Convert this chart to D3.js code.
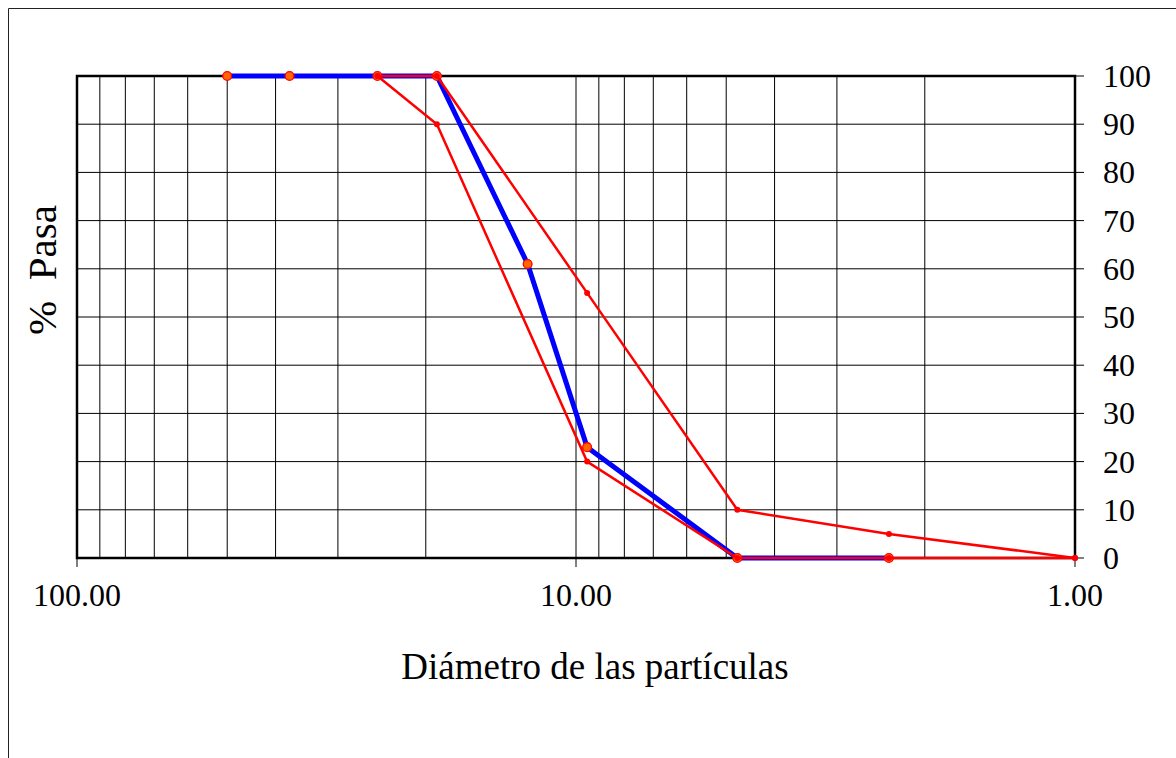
<!DOCTYPE html>
<html>
<head>
<meta charset="utf-8">
<script src="https://cdn.jsdelivr.net/npm/d3@7"></script>
<style>
  body { margin: 0; background: #fff; }
  svg text { font-family: "Liberation Serif", "Times New Roman", serif; fill: #000; }
</style>
</head>
<body>
<div id="chart"></div>
<script>
// sieve sizes (mm) and % passing
var sizes = [50, 37.5, 25, 19, 12.5, 9.5, 4.75, 2.36];
var muestra = [100, 100, 100, 100, 61, 23, 0, 0];

var limSizes = [25, 19, 9.5, 4.75, 2.36, 1];
var limSup = [100, 100, 55, 10, 5, 0];
var limInf = [100, 90, 20, 0, 0, 0];

var xMinor = [90, 80, 70, 60, 50, 40, 30, 20, 10, 9, 8, 7, 6, 5, 4, 3, 2];
var xMajor = [100, 10, 1];
var yTicks = [0, 10, 20, 30, 40, 50, 60, 70, 80, 90, 100];

var W = 1176, H = 758;
var plotL = 77, plotR = 1075, plotT = 76, plotB = 558;

var svg = d3.select("#chart").append("svg")
  .attr("width", W).attr("height", H);

// outer chart frame
svg.append("path")
  .attr("d", "M8.5," + H + "V8.5H" + W)
  .attr("fill", "none").attr("stroke", "#222").attr("stroke-width", 1);

var x = d3.scaleLog().domain([100, 1]).range([plotL, plotR]);
var y = d3.scaleLinear().domain([0, 100]).range([plotB, plotT]);

// grid
var grid = svg.append("g").attr("stroke", "#000").attr("stroke-width", 1);
grid.selectAll(".vg").data(xMinor).join("line")
  .attr("x1", function (d) { return x(d); }).attr("x2", function (d) { return x(d); })
  .attr("y1", plotT).attr("y2", plotB);
grid.selectAll(".hg").data(yTicks.slice(1, -1)).join("line")
  .attr("x1", plotL).attr("x2", plotR)
  .attr("y1", function (d) { return y(d); }).attr("y2", function (d) { return y(d); });

// right axis ticks + labels
svg.selectAll(".yt").data(yTicks).join("line")
  .attr("x1", plotR).attr("x2", plotR + 9)
  .attr("y1", function (d) { return y(d); }).attr("y2", function (d) { return y(d); })
  .attr("stroke", "#000").attr("stroke-width", 1);
svg.selectAll(".yl").data(yTicks).join("text")
  .attr("x", 1103).attr("y", function (d) { return y(d) + 11; })
  .attr("font-size", 32)
  .text(function (d) { return d; });

// bottom ticks + labels
svg.selectAll(".xt").data(xMajor).join("line")
  .attr("x1", function (d) { return x(d); }).attr("x2", function (d) { return x(d); })
  .attr("y1", plotB).attr("y2", plotB + 9)
  .attr("stroke", "#000").attr("stroke-width", 1);
svg.selectAll(".xl").data(xMajor).join("text")
  .attr("x", function (d) { return x(d); }).attr("y", 606)
  .attr("text-anchor", "middle").attr("font-size", 32)
  .text(function (d) { return d3.format(".2f")(d); });

// plot frame
svg.append("rect")
  .attr("x", plotL).attr("y", plotT)
  .attr("width", plotR - plotL).attr("height", plotB - plotT)
  .attr("fill", "none").attr("stroke", "#000").attr("stroke-width", 2.5);

// axis titles
svg.append("text")
  .attr("transform", "translate(56,270) rotate(-90)")
  .attr("text-anchor", "middle").attr("font-size", 41)
  .attr("xml:space", "preserve").style("white-space", "pre")
  .text("%  Pasa");
svg.append("text")
  .attr("x", 595).attr("y", 679)
  .attr("text-anchor", "middle").attr("font-size", 37)
  .text("Diámetro de las partículas");

var line = d3.line()
  .x(function (d) { return x(d[0]); })
  .y(function (d) { return y(d[1]); });

// sample curve
var pts = d3.zip(sizes, muestra);
svg.append("path").datum(pts)
  .attr("d", line)
  .attr("fill", "none").attr("stroke", "#0000ff").attr("stroke-width", 5)
  .attr("stroke-linejoin", "round");
svg.selectAll(".mk").data(pts).join("circle")
  .attr("cx", function (d) { return x(d[0]); })
  .attr("cy", function (d) { return y(d[1]); })
  .attr("r", 4.4)
  .attr("fill", "#ff6600").attr("stroke", "#ff0000").attr("stroke-width", 1.3);

// specification limits
[limSup, limInf].forEach(function (vals) {
  var lp = d3.zip(limSizes, vals);
  svg.append("path").datum(lp)
    .attr("d", line)
    .attr("fill", "none").attr("stroke", "#ff0000").attr("stroke-width", 2.5);
  svg.append("g").selectAll("circle").data(lp).join("circle")
    .attr("cx", function (d) { return x(d[0]); })
    .attr("cy", function (d) { return y(d[1]); })
    .attr("r", 3)
    .attr("fill", "#ff0000");
});
</script>
</body>
</html>
